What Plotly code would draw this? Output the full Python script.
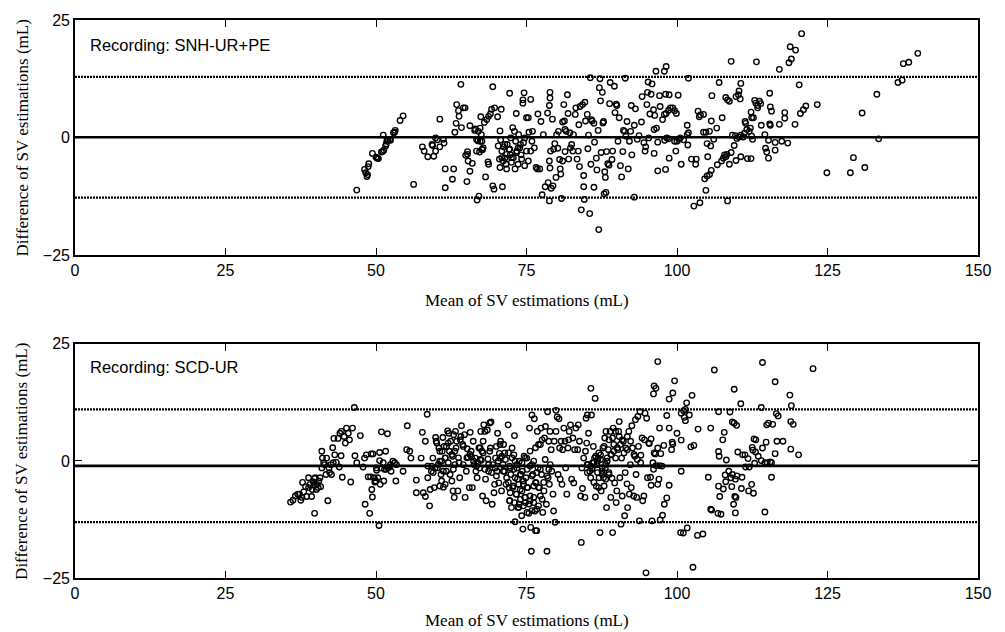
import plotly.graph_objects as go

# ---------------- axes / labels ----------------
x_range = [0, 150]
y_range = [-25, 25]
x_ticks = [0, 25, 50, 75, 100, 125, 150]
y_ticks = [-25, 0, 25]

top_label = "Recording: SNH-UR+PE"
bot_label = "Recording: SCD-UR"
x_title = "Mean of SV estimations (mL)"
y_title = "Difference of SV estimations (mL)"

# bias and limits of agreement
top_bias, top_upper, top_lower = 0.05, 12.9, -12.8
bot_bias, bot_upper, bot_lower = -1.06, 11.0, -13.05

# ---------------- top panel: SNH-UR+PE ----------------
top_x = [
    46.8, 48.1, 48.3, 48.5, 48.6, 48.8, 48.7, 49.4, 50.0, 50.4,
    50.2, 50.9, 51.1, 51.2, 51.3, 51.6, 51.8, 51.7, 52.0, 52.3,
    52.4, 52.9, 53.2, 53.1, 54.0, 54.5, 56.25,
    57.7, 58.0, 58.6, 59.3, 59.4, 59.6, 59.9, 59.9, 60.2, 60.6,
    61.2, 61.3, 60.6, 61.5, 61.5, 62.7, 62.9, 63.1, 63.4, 63.3,
    63.7, 63.8, 64.1, 64.2, 64.5, 64.8, 65.2, 64.9, 65.2, 65.3,
    65.6, 65.6, 65.1, 66.0, 66.4, 66.5, 66.7, 66.8, 67.1, 66.9,
    67.0, 67.2, 67.3, 67.6, 67.4, 67.7, 68.0, 67.5, 67.6, 68.2,
    68.4, 68.6, 68.7, 68.7, 69.0, 69.2, 69.4, 69.6, 69.4, 69.7,
    70.2, 70.5, 70.6, 70.7, 70.8, 71.0, 71.2, 71.4, 71.6, 72.2,
    71.8, 72.1, 72.3, 72.5, 72.4, 72.7, 73.0, 73.2, 73.3, 73.4,
    73.6, 73.7, 74.0, 74.1, 74.4, 74.4, 74.6, 74.7, 75.0, 75.3,
    75.4, 75.7, 75.7, 75.9, 76.0, 76.3, 76.6, 76.8, 76.9, 77.2,
    77.4, 77.6, 77.8, 78.1, 78.5, 78.6, 78.8, 78.8, 78.9, 78.9,
    78.8, 78.9, 79.0, 79.1, 79.3, 79.4, 79.5, 79.7, 79.9, 80.0,
    80.2, 80.3, 80.5, 80.6, 80.7, 80.8, 81.0, 81.0, 81.2, 81.3,
    81.4, 81.4, 81.6, 81.8, 81.9, 82.0, 82.2, 82.3, 82.5, 82.7,
    82.8, 83.1, 83.2, 83.4, 83.6, 83.7, 83.8, 83.9, 84.1, 84.3,
    84.5, 84.5, 84.6, 84.7, 84.8, 85.1, 85.2, 85.3, 85.5, 85.6,
    85.7, 85.8, 85.9, 86.2, 86.2, 86.3, 86.6, 86.7, 86.9, 87.0,
    87.1, 87.2, 87.3, 87.4, 87.6, 87.7, 87.8, 87.9, 88.0, 88.1,
    88.2, 88.3, 88.5, 88.7, 88.8, 88.9, 89.2, 89.3, 89.6, 89.7,
    89.9, 90.0, 90.2, 90.4, 90.6, 90.8, 91.0, 91.1, 91.3, 91.4,
    91.5, 91.7, 91.9, 92.1, 92.3, 92.4, 92.5, 92.9, 92.9, 93.1,
    93.4, 93.7, 94.1, 94.2, 94.5, 94.7, 94.8, 95.0, 95.1, 95.2,
    95.3,
    95.85, 95.7, 96.1, 95.5, 96.3, 97.2, 96.6, 96.2, 97.1, 98.1,
    98.7, 100.2, 97.6, 97.9, 98.2, 98.6, 98.9, 99.3, 99.6, 99.9,
    96.8, 97.95, 98.3, 98.6, 99.6, 100.0, 100.3, 100.55, 101.1, 101.8,
    101.7, 101.9, 101.7, 101.9, 96.2, 98.7, 99.8, 100.7, 96.8, 98.1,
    96.5, 97.9, 98.2, 103.5, 103.7, 103.9, 104.4, 105.8, 105.7, 106.6,
    107.0, 107.5, 104.4, 104.8, 105.4, 106.1, 105.0, 105.6, 102.4, 103.2,
    103.1, 105.1, 104.6, 105.0, 105.4, 105.7, 104.8, 102.8, 103.8, 108.4,
    106.7, 107.4, 107.7, 107.9, 108.1, 108.3, 108.7, 109.0, 109.5, 109.8,
    110.6, 111.7, 112.3, 109.2, 109.7, 109.95, 110.3, 110.6, 111.0, 111.2,
    111.3, 111.4, 111.6, 112.0, 112.2, 112.4, 112.3, 112.4, 112.55, 112.7,
    108.1, 108.4, 108.7, 109.8, 110.2, 110.3, 110.5, 110.6, 109.0, 113.2,
    112.9, 113.1, 113.4, 113.7, 113.9, 113.4, 115.4, 115.5, 115.7, 115.4,
    115.5, 114.0, 114.6, 115.2, 116.3, 117.4, 118.4, 114.7, 114.9, 115.2,
    116.3, 117.0, 117.9, 117.9, 119.6, 120.3, 120.5, 121.0, 121.4, 123.3,
    117.0, 118.6, 119.0, 118.8, 119.7, 120.7, 124.9, 128.8, 129.3, 131.2,
    130.75, 133.2, 133.5, 136.7, 137.4, 137.6, 138.5, 140.0,
]
top_y = [
    -11.2, -6.8, -7.5, -8.3, -7.9, -5.6, -6.2, -3.4, -4.2, -4.5,
    -4.4, -3.1, -3.0, 0.5, -2.7, -1.8, -0.8, -1.4, -0.6, -0.4,
    -0.6, 1.0, 1.5, 1.1, 3.6, 4.6, -10.0,
    -2.0, -2.9, -4.1, -1.5, -1.7, -4.0, -2.9, -0.1, -0.5, -2.0,
    -0.4, -1.2, 3.9, -6.7, -10.7, -8.9, -6.7, 1.1, 7.0, 3.0,
    5.7, 4.5, 11.3, 2.1, 6.3, 6.3, -3.6, -3.8, -3.0, -5.0,
    2.5, -7.2, -9.4, -5.5, 1.5, 1.8, -0.4, -13.3, -12.5, -0.7,
    1.3, -3.1, 2.0, -2.6, 4.4, -2.6, 3.2, 0.6, -0.8, -8.4,
    3.8, -5.2, -5.7, 4.5, 5.0, 6.0, 10.8, -11.0, -10.3, 6.3,
    4.4, -4.6, 1.4, -0.5, 6.0, -10.5, -2.0, -4.4, -5.7, 9.4,
    -1.5, -2.5, -3.7, -4.3, -0.1, 2.1, 1.3, -0.8, 5.1, -2.9,
    -2.2, 0.6, -1.5, -3.7, 8.0, 7.3, 9.5, -0.1, 4.2, 4.2,
    1.1, 8.1, -2.9, -0.8, 1.3, -2.2, -6.4, -6.7, 5.0, -6.7,
    3.4, -12.2, 0.6, -10.5, 5.2, -9.6, -13.5, 6.8, 8.4, 9.6,
    -5.0, -6.5, -2.9, -10.8, 3.9, -10.3, -2.5, -1.3, -8.5, 0.6,
    -2.3, 1.3, -4.7, -6.7, -7.8, -13.0, -5.0, 3.3, 7.0, 3.5,
    -3.0, 1.7, 1.3, 9.1, 5.1, -4.6, 1.0, -2.2, -1.5, -2.9,
    0.6, 4.9, 6.3, -4.6, -2.9, 2.7, -6.2, 6.6, -15.4, 7.0,
    -10.5, -8.1, -13.2, 7.5, 3.5, 4.9, -2.4, 0.5, -16.2, 12.7,
    -5.7, 3.8, 3.5, -10.6, 3.0, -1.0, -4.4, -6.9, 1.5, -19.6,
    10.6, 12.5, 7.8, -3.2, 9.6, 3.1, 3.4, -12.0, -7.3, -8.5,
    -11.7, -3.0, -5.6, -5.9, 7.2, 11.7, -4.7, -2.9, 10.9, 5.3,
    7.1, 6.8, -0.8, 4.2, -6.0, -8.4, -3.0, 1.5, 1.3, 12.6,
    0.3, 3.4, -6.7, -0.8, 1.3, 6.8, -3.7, -12.7, 2.6, 6.1,
    -0.4, 0.4, 3.3, 8.7, -1.1, -2.9, -2.0, 7.0, 9.6, 11.8,
    -0.1,
    11.4, 9.2, 5.9, 5.0, 4.7, 6.6, 2.0, 1.7, 8.9, 9.2,
    9.1, 9.0, 3.8, 4.9, 5.1, 5.8, 6.3, 6.3, 5.7, 5.1,
    -1.0, -0.6, -0.1, -0.3, -0.8, -0.8, -0.4, -0.1, -0.5, -1.6,
    0.6, 1.0, 2.6, 12.6, -3.4, -4.4, -2.9, -5.7, -7.1, -6.8,
    14.1, 14.1, 15.1, 5.6, 4.4, 4.8, 4.9, 8.9, 3.5, 2.0,
    11.7, 4.2, 1.1, 1.1, 1.3, -0.4, -1.3, -1.8, -4.6, -4.6,
    -5.7, -4.1, -8.8, -8.2, -7.9, -7.0, -11.25, -14.6, -13.9, -13.5,
    -5.8, -5.0, -4.4, -3.7, -4.1, -3.6, -5.7, -3.2, -1.7, -4.9,
    -4.1, -4.5, -4.5, 0.5, 0.4, -0.2, 0.1, 0.5, 0.1, 0.9,
    3.4, 3.0, 1.7, 1.3, 2.0, 4.2, 5.4, 0.3, -0.4, 4.2,
    8.5, 8.0, 7.7, 8.7, 9.1, 9.9, 8.2, 11.5, 16.2, 16.1,
    7.9, 7.3, 6.8, 7.7, 7.2, 6.3, 9.4, 6.5, 5.6, 2.9,
    2.6, 2.6, 0.6, -0.6, -1.05, -0.8, -1.2, -2.3, -3.1, -4.4,
    -2.7, 2.8, 5.3, 4.1, 2.8, 11.2, 5.1, 5.9, 6.7, 7.0,
    14.5, 15.9, 16.7, 19.3, 18.6, 22.1, -7.5, -7.5, -4.3, -6.4,
    5.2, 9.2, -0.3, 11.7, 12.2, 15.7, 16.0, 17.9,
]
# denser cluster around 66-75 mL (top panel)
top_extra_x = [
    70.3, 70.9, 71.4, 71.7, 72.2, 72.8, 72.5, 73.35, 73.9, 74.5,
    73.6, 74.2, 71.1, 70.6, 71.7, 73.1, 74.7, 75.3, 70.9, 75.0,
    66.7, 67.3, 67.8,
]
top_extra_y = [
    -1.8, -2.9, -1.5, -3.6, -2.5, -4.3, -5.3, -3.2, -2.2, -1.1,
    -5.7, -4.6, -5.0, -6.4, -6.7, -6.7, -6.0, -5.0, -4.3, -2.9,
    -2.9, -0.8, -2.2,
]

# ---------------- bottom panel: SCD-UR ----------------
bot_x = [
    35.8, 36.2, 36.6, 37.0, 37.3, 37.5, 37.7, 37.8, 38.0, 38.3,
    38.5, 38.8, 38.8, 39.05, 39.3, 39.4, 39.6, 39.7, 39.8, 39.8,
    39.9, 40.1, 40.2, 40.4, 40.5, 40.7, 40.8, 41.0, 41.0, 41.1,
    41.3, 41.5, 41.8, 41.7, 42.0, 42.2, 42.3, 42.5, 42.6, 42.8,
    42.9, 43.0, 43.15, 43.4, 43.7, 43.9, 44.0, 44.2, 44.25, 44.4,
    44.7, 44.9, 45.1, 45.4, 45.6, 45.8, 46.1, 46.4, 46.5, 46.8,
    47.4, 47.85, 48.1, 48.2, 48.4, 48.7, 48.95, 49.1, 49.2, 49.3,
    49.4, 49.5, 49.7, 49.8, 49.95, 50.06, 50.1, 50.3, 50.5, 50.6,
    50.6, 50.7, 50.9, 50.9, 51.2, 51.3, 51.4, 51.6, 51.7, 51.9,
    52.0, 52.2, 52.4, 52.5, 52.8, 53.1, 53.4, 53.3,
    54.5, 55.1, 55.2, 55.6, 55.8, 56.7, 56.7, 57.5, 57.7, 57.85,
    58.2, 58.2, 58.5, 58.6, 58.6, 58.9, 59.0, 59.2, 59.45, 59.7,
    59.9, 60.0, 60.2, 60.45, 60.6, 60.8, 60.9, 61.0, 61.1, 61.2,
    61.3, 61.5, 61.7, 61.9, 62.0, 62.1, 62.2, 62.4, 62.6, 62.7,
    62.8, 62.9, 63.0, 63.1, 63.2, 63.3, 63.4, 63.6, 63.8, 63.9,
    64.1, 64.2, 64.4, 64.5, 64.7, 64.8, 65.0, 65.15, 65.3, 65.5,
    65.65, 65.8, 65.9, 66.0, 66.15, 66.3, 66.5, 66.6, 66.8, 66.9,
    67.1, 67.2, 67.4, 67.5, 67.6, 67.7, 67.8, 67.9, 68.1, 68.2,
    68.3, 68.5, 68.6, 68.7, 68.9, 69.0, 69.1, 69.3, 69.4, 69.6,
    69.7, 69.85, 70.0, 70.1, 70.2, 70.4, 70.5, 70.6, 70.7, 70.85,
    71.1, 71.2, 71.35, 71.5, 71.6, 71.7, 71.95, 72.1, 72.2, 72.3,
    72.5, 72.6, 72.7, 72.9, 73.0, 73.1, 73.3, 73.4, 73.5, 73.6,
    73.8, 73.8, 73.95, 74.06, 74.2, 74.3, 74.4, 74.5, 74.6, 74.7,
    74.8, 74.9, 75.05, 75.2, 75.4, 75.5, 75.6, 75.7, 75.8, 75.9,
    75.9, 76.05, 76.2, 76.3, 76.4, 76.5, 76.6, 76.7, 76.8, 76.9,
    77.0, 77.15, 77.3, 77.4, 77.5, 77.6, 77.7, 77.9, 78.0, 78.15,
    78.3, 78.4, 78.5, 78.6, 78.7, 78.8, 78.9, 79.1, 79.2, 79.4,
    79.5, 79.6, 79.75, 79.9, 79.9, 80.1, 80.25, 80.4, 80.5, 80.6,
    80.75, 80.9, 81.0, 81.2, 81.4, 81.5, 81.7, 81.9, 82.0, 82.1,
    82.3, 82.5, 82.7, 82.85, 83.0, 83.2, 83.5, 83.6, 83.8, 84.0,
    84.1, 84.2, 84.3, 84.5, 84.7, 84.8, 84.9, 85.0, 85.1, 85.2,
    85.3, 85.5, 85.7, 85.8, 85.9, 86.0, 86.1, 86.3, 86.4, 86.45,
    86.6, 86.7, 86.9, 87.05, 87.2, 87.3, 87.4, 87.55, 87.7, 87.8,
    88.0, 88.1, 88.2, 88.3, 88.4, 88.6, 88.7, 88.9, 89.0, 89.1,
    89.2, 89.3, 89.4, 89.5, 89.65, 89.8, 89.9, 90.0, 90.15, 90.3,
    90.4, 90.5, 90.7, 90.8, 90.9, 91.1, 91.3, 91.4, 91.5, 91.7,
    91.8, 92.0, 92.1, 92.25, 92.4, 92.5, 92.6, 92.8, 93.0, 93.1,
    93.2, 93.3, 93.5, 93.6, 93.75, 93.85, 94.0, 94.2, 94.3, 94.5,
    94.6, 94.7, 94.85, 94.96, 95.1, 95.3,
    96.8, 96.2, 96.5, 96.1, 99.6, 99.3, 98.7, 101.6, 102.5, 101.4,
    100.7, 101.1, 102.05, 101.4, 98.3, 97.1, 98.7, 100.0, 103.5, 105.6,
    100.7, 99.2, 99.3, 102.3, 102.8, 97.8, 96.8, 95.7, 95.4, 96.2,
    96.4, 97.3, 99.1, 96.0, 96.5, 97.1, 97.5, 96.1, 95.6, 97.0,
    96.8, 100.7, 98.7, 98.3, 97.9, 97.6, 97.2, 95.85, 105.2, 105.6,
    105.75, 106.8, 107.3, 107.1, 107.7, 106.9, 108.1, 108.6, 108.96, 109.2,
    108.0, 109.7, 109.95, 110.8, 109.1, 109.6, 109.8, 109.4, 109.7, 110.7,
    111.9, 112.4, 112.7, 106.2, 109.5, 110.6, 114.0, 116.3, 118.75, 119.0,
    122.6, 114.2, 106.9, 108.8, 109.2, 109.5, 109.9, 107.85, 107.6, 106.9,
    107.0, 108.2, 110.1, 110.9, 111.3, 111.8, 112.8, 113.1, 112.5, 112.6,
    113.05, 113.5, 114.2, 114.0, 114.8, 114.6, 115.0, 115.5, 115.7, 116.3,
    116.6, 117.6, 118.9, 120.2, 111.4, 112.0, 112.9, 115.7, 114.6, 114.9,
    115.2, 115.9, 116.5, 116.8, 118.9, 119.3, 95.7, 100.6, 101.05, 101.7,
    103.4, 104.3, 102.65, 101.2,
]
bot_y = [
    -8.8, -8.4, -7.5, -7.1, -7.1, -8.4, -7.8, -4.6, -6.6, -5.5,
    -7.6, -5.7, -3.6, -5.0, -7.6, -6.1, -4.5, -5.2, -3.8, -11.2,
    -3.6, -6.1, -5.0, -5.7, -4.3, -3.6, -5.5, -1.5, 2.05, 0.6,
    -0.4, -0.8, 0.6, -2.9, -8.5, -1.5, -2.5, -0.8, -2.9, 2.8,
    -0.4, 4.8, 1.3, -0.3, 4.8, -1.3, 5.9, 1.1, 6.3, -3.5,
    5.2, 3.8, 7.0, 5.9, 4.5, -4.5, 7.0, 11.4, 1.1, -0.4,
    5.4, -1.3, 0.6, -9.25, 1.3, -3.4, -11.2, -3.4, 1.5, -6.1,
    -7.7, 1.5, -3.6, -4.5, -4.3, -1.5, -2.0, -3.6, -13.8, 1.8,
    0.07, -5.0, 6.2, -1.5, -0.4, -4.3, -1.8, 2.05, -1.8, 5.8,
    -1.5, -1.3, -0.8, -2.2, -0.07, -0.4, -0.8, -4.3,
    -2.2, 2.4, 7.5, 2.05, 0.6, -4.1, -6.8, 0.6, 6.1, -6.8,
    4.2, -7.6, 9.96, -3.6, -1.1, -9.6, -6.1, -2.2, 0.6, -5.7,
    5.0, 4.2, -1.5, 2.75, -0.07, -2.9, -4.3, 2.05, 5.0, -5.6,
    3.1, 0.6, -2.2, 6.4, 3.8, 5.9, 2.05, 4.2, -4.3, 1.0,
    -6.4, 5.6, -7.8, -0.8, 6.3, 2.75, 4.2, -6.4, -0.4, -3.6,
    5.2, 7.5, 3.5, -0.8, 5.6, -7.8, -2.2, 2.6, 0.8, -5.7,
    6.1, 2.05, 0.8, -5.7, 4.2, -0.8, 0.6, -2.2, -3.6, -0.4,
    2.75, -1.5, 6.3, 0.14, 2.05, -7.5, 4.2, 7.7, 6.3, -3.9,
    -8.5, 6.6, 0.4, -2.2, 8.1, 2.75, 8.3, -9.25, -0.8, -6.8,
    -5.0, 0.6, 3.1, -2.2, 5.9, -4.7, 1.6, 0.6, 4.2, -6.4,
    -0.8, 3.5, -2.2, 0.3, -5.0, -3.6, 7.7, -5.7, -8.5, -1.5,
    -9.96, 2.75, -5.7, 1.3, 5.4, -13.0, -7.1, -0.8, -3.9, -9.96,
    -9.25, -0.07, -6.1, -2.9, -11.7, -2.2, -14.55, -5.0, 1.0, -7.8,
    -8.9, -3.6, 0.6, -5.7, -11.2, 7.0, -8.5, -14.2, -19.3, -0.8,
    9.8, -2.9, -7.8, 9.0, -10.7, -14.9, -4.7, -14.9, 6.3, -1.5,
    -9.6, -5.7, 3.5, 7.0, -2.9, -8.2, -11.0, -6.4, 4.9, 7.35,
    -9.25, -19.3, 10.5, -3.6, 4.2, -5.0, 6.3, 2.4, -2.2, -7.1,
    -10.7, 4.2, -13.1, 6.3, 10.8, 9.4, -2.9, 9.0, 2.75, -3.9,
    4.2, -5.0, 2.4, 7.0, 4.2, -1.5, -7.1, 2.75, 4.5, 6.3,
    7.7, -3.9, 4.9, -4.7, 2.4, 7.0, 2.4, 7.7, 4.2, -7.5,
    -17.4, -1.5, -5.9, 0.6, -7.8, 2.05, 9.1, 3.8, 9.8, -0.8,
    5.9, -2.2, 15.5, 9.8, -1.5, -0.4, 3.1, 0.6, 13.35, -7.7,
    -5.4, -0.8, 0.6, -3.6, -15.3, 1.3, -6.4, -2.2, 2.75, -3.6,
    4.9, -1.5, 6.3, -9.96, -0.07, 2.4, -2.9, 6.3, -7.8, 1.3,
    -3.7, -15.3, 7.0, 3.5, -4.7, 0.6, -8.9, -6.4, 2.4, 6.3,
    8.4, -3.6, -13.5, 0.6, -7.5, 4.2, -11.7, -2.5, 2.75, -4.9,
    -9.96, 6.3, -7.1, -0.8, -5.7, 7.5, 2.75, -7.5, 1.0, 8.8,
    -2.9, -7.8, 9.5, 3.1, -12.8, 10.5, 1.2, 4.9, -8.5, -7.5,
    4.5, 10.2, -23.9, 9.1, -3.6, 3.8,
    21.2, 16.0, 15.5, 14.3, 17.1, 14.5, 13.2, 12.4, 14.0, 11.0,
    10.2, 10.7, 9.8, 8.6, 9.7, 7.0, 7.0, 5.9, 6.8, 7.0,
    4.45, 4.0, 3.6, 3.0, 3.3, 3.3, 2.75, 4.7, 3.7, 1.7,
    1.5, 1.55, 2.4, -0.4, -1.0, -1.0, -1.1, -1.8, -3.5, -3.9,
    -5.0, -2.2, -5.2, -7.9, -9.25, -11.6, -12.6, -12.8, -3.5, -10.3,
    -10.5, -11.2, -11.4, -7.6, -6.0, -5.4, -4.45, -2.2, -3.6, -2.9,
    -3.0, -3.9, -3.2, -3.5, -5.5, -7.6, -7.8, -9.25, -11.1, -5.9,
    -6.4, -5.0, -6.9, 19.4, 15.3, 12.2, 11.4, 16.9, 14.05, 11.8,
    19.7, 21.0, 10.5, 10.45, 8.3, 8.05, 7.6, 6.1, 4.5, 2.0,
    1.0, 0.2, 1.9, 1.3, 1.3, 0.5, 4.7, 4.5, 2.9, 2.3,
    1.9, 1.0, 2.75, 0.07, 4.0, -0.4, -0.4, -0.2, -0.4, 1.55,
    4.2, 4.2, 2.5, 1.3, -1.3, -1.3, -0.5, -3.5, -10.9, 7.7,
    8.05, 7.8, 10.1, 9.6, 8.4, 7.8, -5.2, -15.3, -15.4, -14.3,
    -15.9, -15.6, -22.7, 9.3,
]
# denser clusters between 59 and 94 mL (bottom panel)
bot_extra_x = [
    72.0, 72.6, 73.1, 72.2, 72.9, 73.4, 72.4, 73.1, 74.0, 72.0,
    72.8, 73.7, 74.5, 72.3, 73.3, 74.25, 75.1, 72.2, 73.0, 74.0,
    74.8, 75.6, 73.7, 74.5, 75.4, 76.2, 75.1, 75.9, 76.7, 74.25,
    74.8, 75.1, 75.6, 76.2, 76.7, 77.3, 75.9, 76.5, 77.0, 77.3,
    75.6, 76.5, 77.0, 77.6, 76.2, 77.85, 78.4, 78.7, 78.95, 78.1,
    59.25, 59.8, 60.35, 60.9, 61.5, 61.2, 62.0, 62.6, 63.1, 63.7,
    62.3, 62.85, 65.1, 65.6, 66.2, 66.7, 67.3, 67.8, 68.1, 68.7,
    69.2, 69.8, 70.3, 70.9, 70.0, 71.15, 60.6, 60.1, 61.7, 64.0,
    64.5, 67.3, 68.9, 70.6, 71.4, 59.5, 60.6, 61.5,
    85.1, 85.66, 86.2, 86.8, 87.3, 87.6, 88.15, 88.4, 89.0, 89.5,
    90.1, 90.6, 90.9, 90.4, 89.8, 89.3, 88.7, 87.9, 87.0, 86.5,
    85.9, 86.8, 87.6, 88.15, 88.7, 91.2, 91.75, 92.3, 92.85, 93.4,
    93.96, 91.75, 85.1, 85.66, 86.2, 87.0, 87.9,
]
bot_extra_y = [
    1.7, 0.65, -0.05, -1.1, -1.8, -1.5, -2.9, -3.6, -2.9, -4.6,
    -5.35, -5.0, -4.3, -6.8, -7.1, -6.4, -5.7, -8.5, -8.9, -8.2,
    -7.8, -7.5, -9.9, -9.6, -9.2, -8.9, -11.0, -10.6, -10.3, -0.4,
    0.65, -1.8, -1.1, -0.05, -2.5, -1.8, -3.2, -4.6, -5.7, -7.5,
    2.1, 2.8, 3.5, 4.5, -5.35, -4.6, -3.2, -1.8, -0.8, 0.3,
    -1.1, -1.5, -0.76, -0.05, 0.65, -2.2, -0.4, 1.36, 2.07, 0.65,
    -2.9, -1.8, 0.65, 1.36, -0.05, -1.1, 0.3, 1.7, -1.8, -0.76,
    -2.5, -1.5, -0.05, 1.0, -3.2, -2.2, 2.07, 3.8, 3.1, 4.5,
    3.1, 2.8, 2.07, 3.5, 1.7, -2.5, -5.35, -5.0,
    -0.76, -1.1, -0.4, -0.05, 0.3, -1.5, -0.76, 0.65, 1.36, 2.07,
    2.8, 3.5, 4.5, 5.2, 6.3, 4.9, 4.5, 3.1, 1.7, 1.0,
    -1.8, -2.5, -2.9, -3.9, -2.5, 1.7, 2.4, 4.2, 1.36, 0.3,
    -0.4, 5.2, -2.5, -3.6, -4.6, -5.7, -5.35,
]

# ---------------- figure ----------------
fig = go.Figure()

panels = [
    (top_x + top_extra_x, top_y + top_extra_y, top_bias, top_upper, top_lower, "x", "y"),
    (bot_x + bot_extra_x, bot_y + bot_extra_y, bot_bias, bot_upper, bot_lower, "x2", "y2"),
]
for xs, ys, bias, up, lo, xa, ya in panels:
    for v in (up, lo):
        fig.add_trace(go.Scatter(
            x=x_range, y=[v, v], mode="lines",
            line=dict(color="black", width=2.2, dash="2px,1px"),
            xaxis=xa, yaxis=ya, hoverinfo="skip"))
    fig.add_trace(go.Scatter(
        x=x_range, y=[bias, bias], mode="lines",
        line=dict(color="black", width=2.6),
        xaxis=xa, yaxis=ya, hoverinfo="skip"))
    fig.add_trace(go.Scatter(
        x=xs, y=ys, mode="markers",
        marker=dict(symbol="circle-open", size=5.5, color="black",
                    line=dict(width=1.35, color="black")),
        xaxis=xa, yaxis=ya))

tick_font = dict(family="Liberation Sans, Arial, sans-serif", size=16, color="black")
title_font = dict(family="Liberation Serif, Times New Roman, serif", size=17, color="black")

axis_common = dict(
    showline=True, linecolor="black", linewidth=1.6, mirror="ticks",
    ticks="inside", ticklen=7, tickwidth=1.4, tickcolor="black",
    showgrid=False, zeroline=False, tickfont=tick_font,
)

top_dom = [0.579, 1.0]
bot_dom = [0.0, 0.4197]

fig.update_layout(
    width=1005, height=632,
    margin=dict(l=75, r=27, t=15, b=54),
    paper_bgcolor="white", plot_bgcolor="white",
    showlegend=False,
    xaxis=dict(range=x_range, tickvals=x_ticks, anchor="y", domain=[0, 1], **axis_common),
    yaxis=dict(range=y_range, tickvals=y_ticks, anchor="x", domain=top_dom, **axis_common),
    xaxis2=dict(range=x_range, tickvals=x_ticks, anchor="y2", domain=[0, 1], **axis_common),
    yaxis2=dict(range=y_range, tickvals=y_ticks, anchor="x2", domain=bot_dom, **axis_common),
    annotations=[
        dict(text=top_label, xref="paper", yref="paper", x=0.0144, y=0.9556,
             xanchor="left", yanchor="middle", showarrow=False,
             font=dict(family="Liberation Sans, Arial, sans-serif", size=16.5, color="black")),
        dict(text=bot_label, xref="paper", yref="paper", x=0.0144, y=0.378,
             xanchor="left", yanchor="middle", showarrow=False,
             font=dict(family="Liberation Sans, Arial, sans-serif", size=16.5, color="black")),
        dict(text=x_title, xref="paper", yref="paper", x=0.5, y=0.497,
             xanchor="center", yanchor="middle", showarrow=False, font=title_font),
        dict(text=x_title, xref="paper", yref="paper", x=0.5, y=-0.0764,
             xanchor="center", yanchor="middle", showarrow=False, font=title_font),
        dict(text=y_title, xref="paper", yref="paper", x=-0.0587, y=sum(top_dom) / 2,
             xanchor="center", yanchor="middle", textangle=-90, showarrow=False, font=title_font),
        dict(text=y_title, xref="paper", yref="paper", x=-0.0587, y=sum(bot_dom) / 2,
             xanchor="center", yanchor="middle", textangle=-90, showarrow=False, font=title_font),
    ],
)

fig.write_html(
    "out.html",
    config={"displayModeBar": False},
    post_script="document.body.style.margin='0px';document.body.style.overflow='hidden';",
)
